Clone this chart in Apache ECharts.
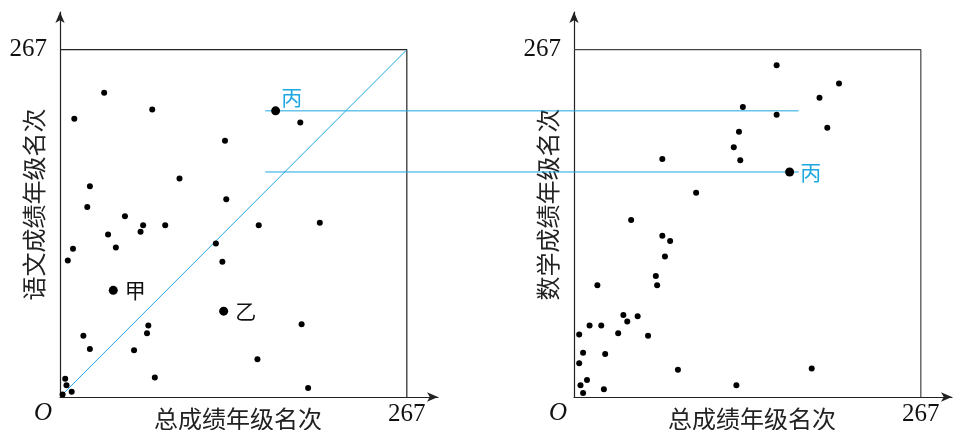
<!DOCTYPE html>
<html><head><meta charset="utf-8">
<script src="https://cdn.jsdelivr.net/npm/echarts@6/dist/echarts.min.js"></script>
<style>html,body{margin:0;padding:0;background:#fff}#c{width:953px;height:430px}</style>
</head><body><div id="c"></div>
<script>
const maxRank = 267;
// left: total rank (x) vs Chinese rank (y)
const leftX = [34,71,11,185,127,92,23,128,21,50,64,81,153,200,37,62,43,120,10,6,125,68,186,67,18,23,57,152,73,191,4,5,9,2];
const leftY = [234,221,214,211,197,168,162,152,146,139,132,132,132,134,125,127,115,118,114,105,104,55,56,49,47,37,36,29,15,7,14,9,4,2];
// right: total rank (x) vs Math rank (y)
const rightX = [156,204,189,130,156,195,127,123,68,128,94,44,68,74,70,63,64,18,38,41,49,12,21,4,34,57,7,24,4,80,183,10,5,125,23,7];
const rightY = [255,241,230,223,217,207,204,192,183,182,157,136,124,120,108,93,86,86,63,58,62,55,55,48,49,47,34,33,26,21,22,13,9,9,6,3];
// named students
const namedNames = ['甲','乙'];
const namedTotal = [41,126];
const namedChinese = [82,66];
const bingName = '丙';
const bingTotal = 166;
const bingChinese = 220;
const bingMath = 173;
// guide lines for 丙: start on left chart, end on right chart (total rank)
const guideStart = 158;
const guideEnd = 173;
const tickLabels = [maxRank];
const xTitle = '总成绩年级名次';
const yTitleLeft = '语文成绩年级名次';
const yTitleRight = '数学成绩年级名次';

const BLUE = '#1ea7e1';
const serif = '"Liberation Serif", "DejaVu Serif", serif';
const cjk = '"Noto Sans CJK SC", sans-serif';
const X_EXT = 291, Y_EXT = 296;

const chart = echarts.init(document.getElementById('c'));
function xAx(gi){return {gridIndex:gi,type:'value',min:0,max:X_EXT,
  axisLine:{show:true,lineStyle:{color:'#222',width:1.2},symbol:['none','arrow'],symbolSize:[7,11]},
  axisTick:{show:false},splitLine:{show:false},
  axisLabel:{customValues:tickLabels,fontFamily:serif,fontSize:25,color:'#111',margin:5},
  name:xTitle,nameLocation:'middle',nameGap:10,nameMoveOverlap:false,
  nameTextStyle:{fontFamily:cjk,fontSize:24,color:'#222',padding:[0,22,0,0]}};}
function yAx(gi,title){return {gridIndex:gi,type:'value',min:0,max:Y_EXT,
  axisLine:{show:true,lineStyle:{color:'#222',width:1.2},symbol:['none','arrow'],symbolSize:[7,11]},
  axisTick:{show:false},splitLine:{show:false},
  axisLabel:{customValues:tickLabels,fontFamily:serif,fontSize:25,color:'#111',margin:13},
  name:title,nameLocation:'middle',nameGap:14,nameRotate:90,nameMoveOverlap:false,
  nameTextStyle:{fontFamily:cjk,fontSize:24,color:'#222'}};}
const box = [[0,maxRank],[maxRank,maxRank],[maxRank,0]];
const zip = (a,b)=>a.map((v,i)=>[v,b[i]]);
const dot = {color:'#000',opacity:1};
chart.setOption({
  animation:false,
  grid:[{left:60,top:12,width:378,height:385,containLabel:false,outerBoundsMode:'none'},
        {left:574,top:12,width:378,height:385,containLabel:false,outerBoundsMode:'none'}],
  xAxis:[xAx(0),xAx(1)],
  yAxis:[yAx(0,yTitleLeft),yAx(1,yTitleRight)],
  series:[
    {type:'line',xAxisIndex:0,yAxisIndex:0,data:box,symbol:'none',silent:true,lineStyle:{color:'#222',width:1.2},z:1},
    {type:'line',xAxisIndex:1,yAxisIndex:1,data:box,symbol:'none',silent:true,lineStyle:{color:'#444',width:1.2},z:1},
    {type:'line',xAxisIndex:0,yAxisIndex:0,data:[[0,0],[maxRank,maxRank]],symbol:'none',silent:true,lineStyle:{color:BLUE,width:1},z:2},
    {type:'scatter',xAxisIndex:0,yAxisIndex:0,data:zip(leftX,leftY),symbolSize:6,itemStyle:dot,z:5},
    {type:'scatter',xAxisIndex:1,yAxisIndex:1,data:zip(rightX,rightY),symbolSize:6,itemStyle:dot,z:5},
    {type:'scatter',xAxisIndex:0,yAxisIndex:0,symbolSize:9,itemStyle:dot,z:6,
      data:namedNames.map((n,i)=>({name:n,value:[namedTotal[i],namedChinese[i]]})),
      label:{show:true,position:'right',distance:7,formatter:'{b}',fontFamily:cjk,fontSize:21,color:'#111'}},
    {type:'scatter',xAxisIndex:0,yAxisIndex:0,symbolSize:9,itemStyle:dot,z:6,
      data:[{name:bingName,value:[bingTotal,bingChinese]}],
      label:{show:true,position:'right',distance:1,offset:[0,-14],formatter:'{b}',fontFamily:cjk,fontSize:21,color:BLUE}},
    {type:'scatter',xAxisIndex:1,yAxisIndex:1,symbolSize:9,itemStyle:dot,z:6,
      data:[{name:bingName,value:[bingTotal,bingMath]}],
      label:{show:true,position:'right',distance:6,formatter:'{b}',fontFamily:cjk,fontSize:21,color:BLUE}}
  ]
});
const a1 = chart.convertToPixel({gridIndex:0},[guideStart,bingChinese]);
const b1 = chart.convertToPixel({gridIndex:1},[guideEnd,bingChinese]);
const a2 = chart.convertToPixel({gridIndex:0},[guideStart,bingMath]);
const b2 = chart.convertToPixel({gridIndex:1},[guideEnd,bingMath]);
const o1 = chart.convertToPixel({gridIndex:0},[0,0]);
const o2 = chart.convertToPixel({gridIndex:1},[0,0]);
chart.setOption({graphic:[
  {type:'line',shape:{x1:a1[0],y1:a1[1],x2:b1[0],y2:b1[1]},style:{stroke:BLUE,lineWidth:1},z:3,silent:true},
  {type:'line',shape:{x1:a2[0],y1:a2[1],x2:b2[0],y2:b2[1]},style:{stroke:BLUE,lineWidth:1},z:3,silent:true},
  {type:'text',x:o1[0]-17,y:o1[1]+16,style:{text:'O',font:'italic 25px '+serif,fill:'#111',align:'center',verticalAlign:'middle'}},
  {type:'text',x:o2[0]-16,y:o2[1]+16,style:{text:'O',font:'italic 25px '+serif,fill:'#111',align:'center',verticalAlign:'middle'}}
]});
</script></body></html>
